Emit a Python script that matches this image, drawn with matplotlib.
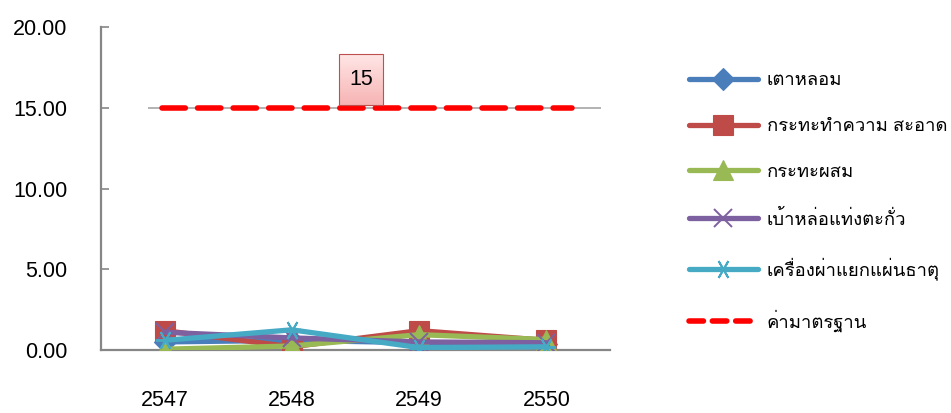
import numpy as np
import matplotlib
matplotlib.use("Agg")
import matplotlib.pyplot as plt
from matplotlib import font_manager as fm
from matplotlib.ft2font import FT2Font
from matplotlib.patches import Rectangle

years = ["2547", "2548", "2549", "2550"]
series_names = ["เตาหลอม", "กระทะทำความ สะอาด", "กระทะผสม",
                "เบ้าหล่อแท่งตะกั่ว", "เครื่องผ่าแยกแผ่นธาตุ"]
furnace = [0.50, 0.60, 0.45, 0.40]
clean_pan = [1.20, 0.20, 1.20, 0.60]
mix_pan = [0.05, 0.25, 0.95, 0.65]
mould = [1.10, 0.75, 0.50, 0.45]
splitter = [0.60, 1.25, 0.15, 0.20]
standard_name = "ค่ามาตรฐาน"
standard = 15
yticks = [0, 5, 10, 15, 20]

colors = ["#4A7EBB", "#BE4B48", "#98B954", "#7D60A0", "#46AAC5"]
# diamond, square, triangle, cross, asterisk
asterisk = (6, 2, 30)
markers = ["D", "s", "^", "x", asterisk]
msizes = [11, 14, 14, 13, 14]


def thai_font():
    # look for any installed font that has Thai glyphs
    for path in sorted(fm.findSystemFonts()):
        try:
            if 0x0E01 in FT2Font(path).get_charmap():
                fm.fontManager.addfont(path)
                return fm.FontProperties(fname=path).get_name()
        except Exception:
            pass
    return None


tf = thai_font()
fams = ["Liberation Sans"] + ([tf] if tf else []) + ["DejaVu Sans"]
plt.rcParams["font.family"] = fams

fig = plt.figure(figsize=(9.51, 4.13), dpi=100)
ax = fig.add_axes([0.1062, 0.1525, 0.5352, 0.7821])

x = np.arange(len(years))
data = [furnace, clean_pan, mix_pan, mould, splitter]
handles = []
for vals, name, c, m, ms in zip(data, series_names, colors, markers, msizes):
    mew = 1.4 if m in ("x", asterisk) else 0.8
    h, = ax.plot(x, vals, color=c, lw=3.8, marker=m, ms=ms, mfc=c, mec=c,
                 mew=mew, label=name, solid_capstyle="round", zorder=3)
    handles.append(h)

# standard level
ax.hlines(standard, -0.13, 3.43, color="#A6A6A6", lw=1.2, zorder=2)
std_line = ax.hlines(standard, -0.02, 3.2, color="#FF0000", lw=4,
                     linestyles=(0, (4.2, 2.2)), zorder=4)
std_line.set_capstyle("round")

# value box over the standard line
grad = np.linspace(0, 1, 64).reshape(-1, 1)
cmap = matplotlib.colors.LinearSegmentedColormap.from_list(
    "pink", ["#FFE6E6", "#F7B4B4"])
ax.imshow(grad, extent=[1.37, 1.72, 15.2, 18.3], aspect="auto", cmap=cmap,
          origin="upper", zorder=5)
ax.add_patch(Rectangle((1.37, 15.2), 0.35, 3.1, fill=False,
                       edgecolor="#C0504D", lw=0.8, zorder=6))
ax.text(1.545, 16.75, str(standard), ha="center", va="center",
        fontsize=15.5, zorder=7)

ax.set_xlim(-0.5, 3.5)
ax.set_ylim(0, 20)
ax.set_xticks(x)
ax.set_xticklabels(years)
ax.set_yticks(yticks)
ax.set_yticklabels([f"{v:.2f}" for v in yticks])
ax.tick_params(axis="x", length=0, pad=29, labelsize=15.5)
ax.tick_params(axis="y", direction="in", length=6, width=1.2,
               color="#868686", pad=24, labelsize=15.5)
for s in ["top", "right"]:
    ax.spines[s].set_visible(False)
for s in ["left", "bottom"]:
    ax.spines[s].set_color("#868686")
    ax.spines[s].set_linewidth(1.6)

std_handle = plt.Line2D([], [], color="#FF0000", lw=4,
                        linestyle=(0, (2.6, 1.6)))
std_handle.set_dash_capstyle("round")
fig.legend(handles + [std_handle], series_names + [standard_name],
           loc="upper left", bbox_to_anchor=(0.717, 0.843), frameon=False,
           fontsize=13.3, handlelength=3.7, handletextpad=0.5,
           labelspacing=1.56, borderaxespad=0)

fig.savefig("out.png", dpi=100)
